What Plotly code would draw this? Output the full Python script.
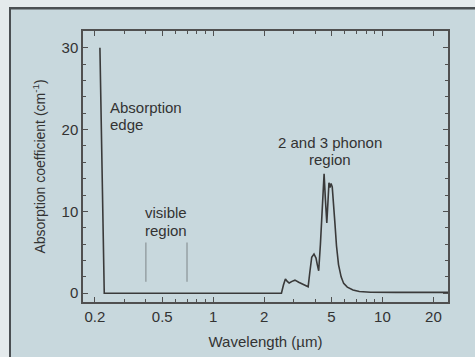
import numpy as np
import plotly.graph_objects as go

# Absorption spectrum (wavelength in micrometres, coefficient in cm^-1)
wavelength = [0.214, 0.227, 0.3, 0.5, 1.0, 2.0, 2.53, 2.6, 2.67, 2.74, 2.81, 2.92,
              3.04, 3.2, 3.4, 3.64, 3.72, 3.82, 3.94, 4.05, 4.12, 4.2, 4.3, 4.42,
              4.52, 4.6, 4.69, 4.76, 4.83, 4.9, 4.97, 5.05, 5.15, 5.24, 5.35, 5.5,
              5.7, 5.9, 6.2, 6.7, 7.3, 8.5, 12.0, 24.4]
absorption = [30.0, 0.0, 0.0, 0.0, 0.0, 0.0, 0.0, 1.0, 1.75, 1.45, 1.25, 1.45,
              1.6, 1.35, 1.05, 0.8, 2.5, 4.4, 4.8, 4.3, 3.5, 2.75, 6.0, 11.0,
              14.6, 11.5, 8.6, 11.0, 13.5, 12.9, 13.4, 13.0, 11.0, 8.5, 5.8, 3.5,
              2.0, 1.2, 0.75, 0.4, 0.22, 0.12, 0.1, 0.1]

# Visible band markers
visible_bounds = [0.4, 0.7]
visible_marker_y = [1.4, 6.2]

x_tickvals = [0.2, 0.5, 1, 2, 5, 10, 20]
x_ticktext = ["0.2", "0.5", "1", "2", "5", "10", "20"]
x_minor = [0.3, 0.4, 0.6, 0.7, 0.8, 0.9, 3, 4, 6, 7, 8, 9]

W, H = 475, 357
ML, MR, MT, MB = 83, 27, 31, 55
PW, PH = W - ML - MR, H - MT - MB

def px_x(px):
    return (px - ML) / PW

def px_y(py):
    return (H - MB - py) / PH

FONT = "Liberation Sans, Arial, sans-serif"
INK = "#333333"
AXIS = "#505050"
BG = "#c8d8dd"

fig = go.Figure()

fig.add_trace(go.Scatter(
    x=wavelength, y=absorption, mode="lines",
    line=dict(color="#3a3a3a", width=1.6), showlegend=False, hoverinfo="skip"))

for xb in visible_bounds:
    fig.add_trace(go.Scatter(
        x=[xb, xb], y=visible_marker_y, mode="lines",
        line=dict(color="#8a9396", width=1.2), showlegend=False, hoverinfo="skip"))

def label(text, x, y, anchor):
    fig.add_annotation(x=np.log10(x), y=y, xref="x", yref="y", text=text,
                       showarrow=False, xanchor=anchor, yanchor="middle",
                       font=dict(family=FONT, size=15, color=INK))

label("Absorption", 0.239, 22.7, "left")
label("edge", 0.239, 20.6, "left")
label("visible", 0.527, 9.9, "center")
label("region", 0.527, 7.7, "center")
label("2 and 3 phonon", 4.9, 18.4, "center")
label("region", 4.9, 16.3, "center")

# slide frame edges
shapes = [
    dict(type="rect", xref="paper", yref="paper", x0=px_x(0), x1=px_x(W), y0=px_y(7), y1=px_y(0),
         fillcolor="#e4eaec", line=dict(width=0), layer="below"),
    dict(type="rect", xref="paper", yref="paper", x0=px_x(0), x1=px_x(9), y0=px_y(H), y1=px_y(0),
         fillcolor="#e4eaec", line=dict(width=0), layer="below"),
    dict(type="rect", xref="paper", yref="paper", x0=px_x(9), x1=px_x(W), y0=px_y(9.5), y1=px_y(7),
         fillcolor="#4a4f52", line=dict(width=0), layer="below"),
    dict(type="rect", xref="paper", yref="paper", x0=px_x(9), x1=px_x(11), y0=px_y(H), y1=px_y(7),
         fillcolor="#4a4f52", line=dict(width=0), layer="below"),
]

fig.update_layout(
    width=W, height=H,
    margin=dict(l=ML, r=MR, t=MT, b=MB, pad=0, autoexpand=False),
    paper_bgcolor=BG, plot_bgcolor=BG,
    font=dict(family=FONT, size=15, color=INK),
    shapes=shapes,
    showlegend=False,
)

fig.update_xaxes(
    type="log", range=[np.log10(0.17), np.log10(24.4)],
    tickvals=x_tickvals, ticktext=x_ticktext,
    ticks="inside", ticklen=5, tickwidth=1.2, tickcolor=AXIS,
    minor=dict(tickvals=x_minor, ticks="inside", ticklen=3, tickcolor=AXIS, tickwidth=1),
    showline=True, linecolor=AXIS, linewidth=1.5, mirror="allticks",
    showgrid=False, zeroline=False, automargin=False,
    tickfont=dict(family=FONT, size=15, color=INK),
    title=dict(text="Wavelength (µm)", font=dict(family=FONT, size=15, color=INK), standoff=13),
)

fig.update_yaxes(
    range=[-1.07, 32.04], tickvals=[0, 10, 20, 30],
    ticks="inside", ticklen=5, tickwidth=1.2, tickcolor=AXIS,
    minor=dict(dtick=2, ticks="inside", ticklen=3, tickcolor=AXIS, tickwidth=1),
    showline=True, linecolor=AXIS, linewidth=1.5, mirror="allticks",
    showgrid=False, zeroline=False, automargin=False,
    tickfont=dict(family=FONT, size=15, color=INK),
    title=dict(text="Absorption coefficient (cm<sup>-1</sup>)",
               font=dict(family=FONT, size=14, color=INK), standoff=13),
)

fig.write_html("out.html")
